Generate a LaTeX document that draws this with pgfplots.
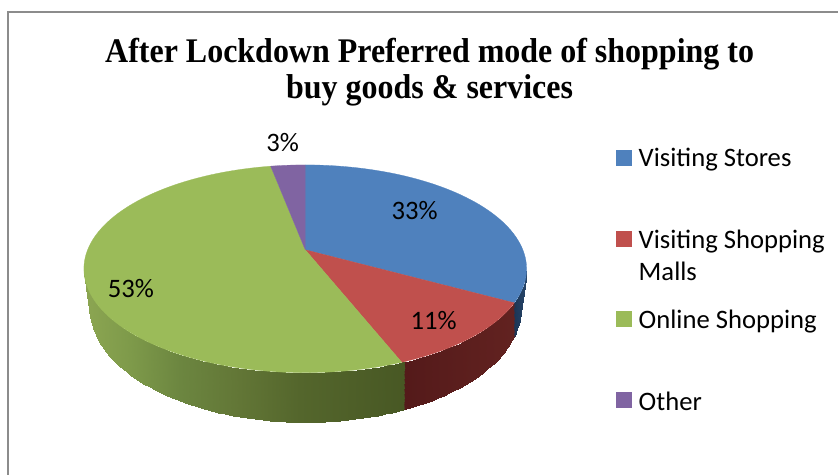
\documentclass[border=0pt]{standalone}
\usepackage{fontspec}
\setmainfont{Carlito}
\newfontfamily\titlefont{Liberation Serif}
\usepackage{pgfplots}
\pgfplotsset{compat=1.18}
\begin{document}
\begin{tikzpicture}
\begin{axis}[
  view={0}{90},
  hide axis,
  scale only axis,
  width=629.25pt, height=356.25pt,
  xmin=0, xmax=839, ymin=0, ymax=475, zmin=0, zmax=1,
  clip=false,
  point meta min=84, point meta max=527,
  % side wall shading runs left to right across the pie
  colormap={wall}{
    rgb255(0pt)=(140,166,82);
    rgb255(46pt)=(126,154,74);
    rgb255(96pt)=(108,134,64);
    rgb255(156pt)=(98,118,54);
    rgb255(216pt)=(84,102,44);
    rgb255(320pt)=(72,88,36);
    rgb255(321pt)=(84,26,26);
    rgb255(430pt)=(98,34,32);
    rgb255(431pt)=(28,54,86);
    rgb255(443pt)=(40,70,106)
  },
  declare function={
    th(\p)=90-3.6*\p;
    den(\p)=1+0.183*sin(th(\p));
    tx(\p)=305.5+217.8*cos(th(\p))/den(\p);
    ty(\p)=225+100.5*sin(th(\p))/den(\p);
    sx(\p,\t)=305.5+(217.8-5.8*\t)*cos(th(\p))/den(\p);
    sy(\p,\t)=225-38*\t+(100.5+9.5*\t)*sin(th(\p))/den(\p);
  },
]
% full picture extent
\path (axis cs:0,0,0) rectangle (axis cs:839,475,0);

% frame
\addplot3[draw=black!45, line width=1.1pt] coordinates {(8,0,0) (8,463,0) (839,463,0)};

% side walls, domains are cumulative percentages
\addplot3[surf, shader=interp, domain=44:72.33, y domain=0:1, samples=60, samples y=2, point meta=x] ({sx(x,y)},{sy(x,y)},0);
\addplot3[surf, shader=interp, domain=33:44, y domain=0:1, samples=24, samples y=2, point meta=x] ({sx(x,y)},{sy(x,y)},0);
\addplot3[surf, shader=interp, domain=27.67:33, y domain=0:1, samples=10, samples y=2, point meta=x] ({sx(x,y)},{sy(x,y)},0);

% top face: Visiting Stores 33, Visiting Shopping Malls 11, Online Shopping 53, Other 3
\definecolor{cblue}{HTML}{4F81BD}
\definecolor{cred}{HTML}{C0504D}
\definecolor{cgreen}{HTML}{9BBB59}
\definecolor{cpurple}{HTML}{8064A2}
\addplot3[fill=cblue, draw=cblue, line width=0.2pt, domain=0:33, samples=60, samples y=0] ({tx(x)},{ty(x)},0) -- (axis cs:305.5,225,0) -- cycle;
\addplot3[fill=cred, draw=cred, line width=0.2pt, domain=33:44, samples=24, samples y=0] ({tx(x)},{ty(x)},0) -- (axis cs:305.5,225,0) -- cycle;
\addplot3[fill=cgreen, draw=cgreen, line width=0.2pt, domain=44:97, samples=90, samples y=0] ({tx(x)},{ty(x)},0) -- (axis cs:305.5,225,0) -- cycle;
\addplot3[fill=cpurple, draw=cpurple, line width=0.2pt, domain=97:100, samples=8, samples y=0] ({tx(x)},{ty(x)},0) -- (axis cs:305.5,225,0) -- cycle;

% legend swatches
\addplot3[only marks, mark=square*, mark size=5.6pt, color=cblue] coordinates {(624.5,317,0)};
\addplot3[only marks, mark=square*, mark size=5.6pt, color=cred] coordinates {(624.5,236,0)};
\addplot3[only marks, mark=square*, mark size=5.6pt, color=cgreen] coordinates {(624.5,156,0)};
\addplot3[only marks, mark=square*, mark size=5.6pt, color=cpurple] coordinates {(624.5,75,0)};

\def\lbl{\fontsize{20}{24}\selectfont}
\node[font=\lbl, inner sep=0pt] at (axis cs:283,332,0) {3\%};
\node[font=\lbl, inner sep=0pt] at (axis cs:415,264,0) {33\%};
\node[font=\lbl, inner sep=0pt] at (axis cs:434,154,0) {11\%};
\node[font=\lbl, inner sep=0pt] at (axis cs:131,186,0) {53\%};

\node[font=\lbl, anchor=west, inner sep=0pt] at (axis cs:639,315,0) {Visiting Stores};
\node[font=\lbl, anchor=north west, inner sep=0pt, align=left] at (axis cs:639,245,0) {Visiting Shopping\\Malls};
\node[font=\lbl, anchor=west, inner sep=0pt] at (axis cs:639,153.5,0) {Online Shopping};
\node[font=\lbl, anchor=west, inner sep=0pt] at (axis cs:639,73.5,0) {Other};

\node[font=\titlefont\bfseries\fontsize{24}{25}\selectfont, inner sep=0pt, align=center, transform shape, yscale=1.08] at (axis cs:430,402.5,0)
  {After Lockdown Preferred mode of shopping to\\buy goods \& services};
\end{axis}
\end{tikzpicture}
\end{document}
